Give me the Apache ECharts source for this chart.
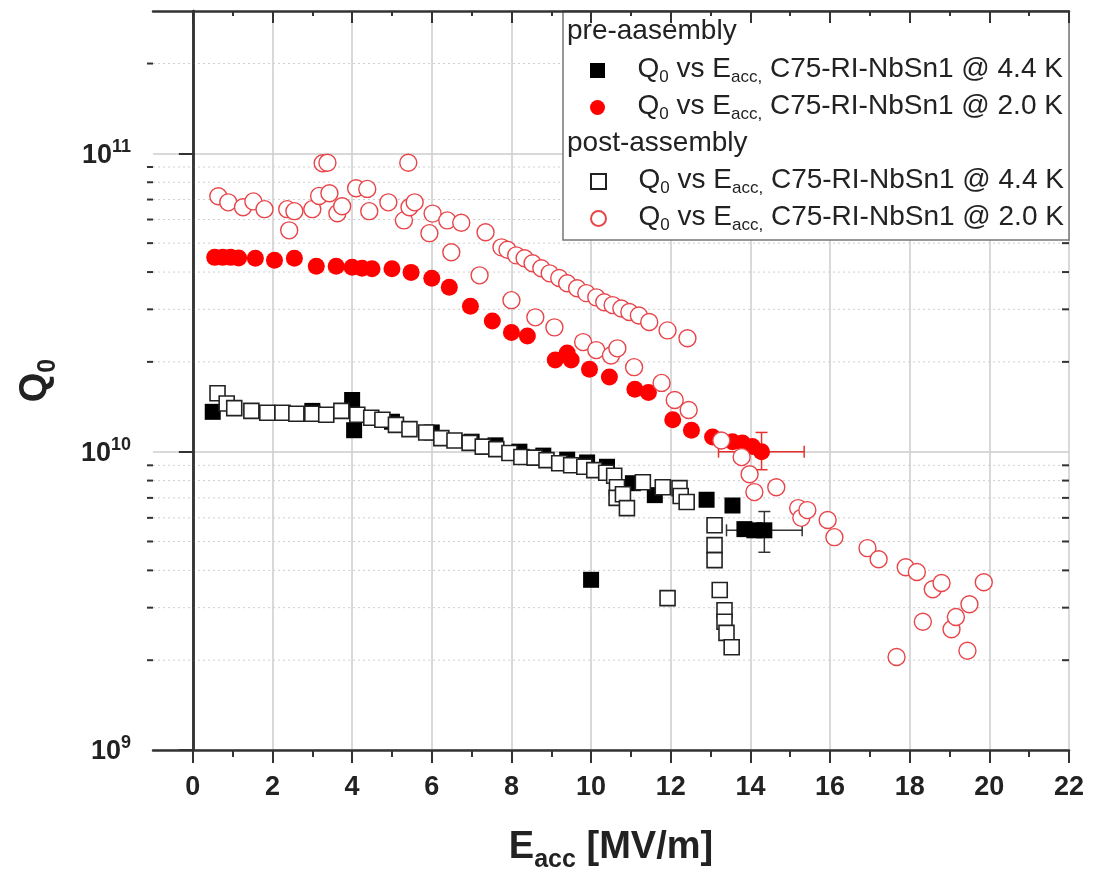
<!DOCTYPE html>
<html>
<head>
<meta charset="utf-8">
<script src="https://cdn.jsdelivr.net/npm/echarts@6/dist/echarts.min.js"></script>
<style>
html, body { margin: 0; padding: 0; background: #fff; }
#chart { width: 1100px; height: 870px; }
</style>
</head>
<body>
<div id="chart"></div>
<script>
// pre-assembly, 4.4 K  [Eacc, Q0]
var pre44 = [[0.5,1.36e10],[3.0,1.37e10],[4.0,1.49e10],[4.05,1.18e10],[5.0,1.26e10],[6.0,1.16e10],
  [7.0,1.08e10],[7.6,1.05e10],[8.2,1.0e10],[8.8,9.7e9],[9.4,9.4e9],[9.9,9.2e9],[10.0,3.72e9],
  [10.4,8.9e9],[11.05,7.84e9],[11.6,7.15e9],[12.9,6.9e9],[13.55,6.6e9],[13.85,5.5e9],
  [14.1,5.45e9],[14.35,5.45e9]];
// pre-assembly, 2.0 K
var pre20 = [[0.55,4.48e10],[0.75,4.48e10],[0.95,4.48e10],[1.15,4.46e10],[1.57,4.45e10],[2.05,4.38e10],
  [2.55,4.45e10],[3.1,4.18e10],[3.6,4.18e10],[4.0,4.15e10],[4.25,4.12e10],[4.5,4.1e10],[5.0,4.1e10],
  [5.48,3.99e10],[6.0,3.81e10],[6.44,3.56e10],[6.97,3.07e10],[7.52,2.74e10],[8.0,2.51e10],[8.4,2.44e10],
  [9.1,2.03e10],[9.4,2.14e10],[9.5,2.03e10],[9.96,1.89e10],[10.46,1.78e10],[11.1,1.62e10],[11.44,1.58e10],
  [12.05,1.28e10],[12.52,1.18e10],[13.05,1.12e10],[13.55,1.08e10],[13.8,1.07e10],[14.05,1.04e10],[14.28,1.0e10]];
// post-assembly, 4.4 K
var post44 = [[0.62,1.57e10],[0.85,1.45e10],[1.04,1.40e10],[1.47,1.37e10],[1.87,1.35e10],[2.25,1.35e10],
  [2.6,1.34e10],[3.0,1.34e10],[3.35,1.33e10],[3.73,1.37e10],[4.13,1.33e10],[4.48,1.30e10],[4.76,1.28e10],
  [5.1,1.23e10],[5.44,1.19e10],[5.86,1.16e10],[6.24,1.11e10],[6.57,1.09e10],[6.95,1.07e10],[7.28,1.04e10],
  [7.62,1.02e10],[7.95,9.9e9],[8.25,9.6e9],[8.58,9.55e9],[8.88,9.37e9],[9.2,9.15e9],[9.5,9.0e9],
  [9.83,8.9e9],[10.08,8.67e9],[10.38,8.5e9],[10.58,8.3e9],[10.65,7.6e9],[10.64,7.0e9],[10.8,7.2e9],
  [10.9,6.47e9],[11.3,7.9e9],[11.8,7.6e9],[11.92,3.23e9],[12.22,7.55e9],[12.25,7.1e9],[12.4,6.78e9],
  [13.1,5.67e9],[13.1,4.86e9],[13.1,4.33e9],[13.23,3.44e9],[13.35,2.94e9],[13.35,2.69e9],[13.4,2.47e9],
  [13.53,2.21e9]];
// post-assembly, 2.0 K
var post20 = [[0.64,7.18e10],[0.89,6.85e10],[1.26,6.6e10],[1.52,6.9e10],[1.8,6.5e10],[2.37,6.5e10],
  [2.42,5.52e10],[2.55,6.4e10],[3.0,6.5e10],[3.17,7.2e10],[3.26,9.26e10],[3.38,9.3e10],[3.43,7.35e10],
  [3.63,6.3e10],[3.75,6.65e10],[4.1,7.64e10],[4.38,7.6e10],[4.43,6.4e10],[4.91,6.85e10],[5.3,5.96e10],
  [5.41,9.3e10],[5.44,6.6e10],[5.57,6.85e10],[5.94,5.4e10],[6.02,6.28e10],[6.39,5.96e10],[6.49,4.66e10],
  [6.74,5.85e10],[7.2,3.9e10],[7.35,5.44e10],[7.75,4.84e10],[7.9,4.75e10],[8.0,3.22e10],[8.12,4.55e10],
  [8.33,4.45e10],[8.53,4.28e10],[8.6,2.82e10],[8.75,4.12e10],[8.96,3.96e10],[9.08,2.61e10],[9.2,3.82e10],
  [9.4,3.67e10],[9.65,3.53e10],[9.8,2.33e10],[9.88,3.4e10],[10.13,3.29e10],[10.13,2.19e10],[10.33,3.17e10],
  [10.5,2.1e10],[10.54,3.1e10],[10.66,2.22e10],[10.76,3.02e10],[10.96,2.94e10],[11.08,1.92e10],[11.2,2.86e10],
  [11.46,2.72e10],[11.77,1.70e10],[11.92,2.55e10],[12.1,1.49e10],[12.42,2.4e10],[12.45,1.38e10],
  [13.27,1.09e10],[13.78,9.59e9],[13.98,8.4e9],[14.1,7.32e9],[14.65,7.6e9],[15.2,6.47e9],[15.28,6.0e9],
  [15.43,6.37e9],[15.94,5.9e9],[16.11,5.17e9],[16.94,4.75e9],[17.22,4.36e9],[17.67,2.05e9],[17.9,4.1e9],
  [18.18,3.95e9],[18.33,2.69e9],[18.58,3.46e9],[18.8,3.63e9],[19.05,2.54e9],[19.16,2.79e9],[19.45,2.15e9],
  [19.5,3.08e9],[19.86,3.65e9]];
// error bars [x, y, xLow, xHigh, yLow, yHigh]
var errPre20 = [[14.28,1.0e10,13.2,15.35,8.7e9,1.16e10]];
var errPre44 = [[14.35,5.45e9,13.4,15.3,4.6e9,6.3e9]];

// axis ticks
var xTicks = [0,2,4,6,8,10,12,14,16,18,20,22];
var yMajor = [1e9,1e10,1e11];
var yMinor = [2e9,3e9,4e9,5e9,6e9,7e9,8e9,9e9,2e10,3e10,4e10,5e10,6e10,7e10,8e10,9e10,2e11];

var temps = {pre44:'4.4 K', pre20:'2.0 K', post44:'4.4 K', post20:'2.0 K'};
var font = 'Liberation Sans, Arial, sans-serif';
var axisColor = '#333';
var square = 'path://M0,0H10V10H0Z';

var chart = echarts.init(document.getElementById('chart'));

// dotted minor grid + minor ticks on left/right
function minorRender(params, api) {
  var cs = params.coordSys;
  var y = api.coord([0, api.value(1)])[1];
  var x0 = cs.x, x1 = cs.x + cs.width;
  return {type: 'group', children: [
    {type: 'line', shape: {x1: x0, y1: y, x2: x1, y2: y}, style: {stroke: '#cfcfcf', lineWidth: 1, lineDash: [2, 3]}},
    {type: 'line', shape: {x1: x0 - 6, y1: y, x2: x0, y2: y}, style: {stroke: axisColor, lineWidth: 2}},
    {type: 'line', shape: {x1: x1 - 7, y1: y, x2: x1, y2: y}, style: {stroke: axisColor, lineWidth: 2}}
  ]};
}

function errRender(params, api) {
  var c = api.coord([api.value(0), api.value(1)]);
  var l = api.coord([api.value(2), api.value(1)]);
  var r = api.coord([api.value(3), api.value(1)]);
  var b = api.coord([api.value(0), api.value(4)]);
  var t = api.coord([api.value(0), api.value(5)]);
  var st = {stroke: api.visual('color'), lineWidth: 1.5};
  var cap = 6;
  function seg(a1, b1, a2, b2) {
    return {type: 'line', shape: {x1: a1, y1: b1, x2: a2, y2: b2}, style: st};
  }
  return {type: 'group', children: [
    seg(l[0], c[1], r[0], c[1]),
    seg(c[0], b[1], c[0], t[1]),
    seg(l[0], c[1] - cap, l[0], c[1] + cap),
    seg(r[0], c[1] - cap, r[0], c[1] + cap),
    seg(c[0] - cap, b[1], c[0] + cap, b[1]),
    seg(c[0] - cap, t[1], c[0] + cap, t[1])
  ]};
}

function legendText(name) {
  return '{t|Q}{s|0}{t| vs E}{s|acc,}{t| C75-RI-NbSn1 @ ' + temps[name] + '}';
}

var legendRich = {
  t: {fontSize: 28, fontFamily: font, color: '#222', lineHeight: 31, verticalAlign: 'top'},
  s: {fontSize: 17, fontFamily: font, color: '#222', lineHeight: 17, padding: [17, 0, 0, 0], verticalAlign: 'bottom'}
};

function legendBlock(data, top) {
  return {
    data: data, left: 590, top: top, orient: 'vertical', padding: 0,
    itemWidth: 70, itemHeight: 15, itemGap: 3,
    formatter: legendText, selectedMode: false,
    textStyle: {rich: legendRich}
  };
}

var titleRich = {
  t: {fontSize: 38, fontWeight: 'bold', fontFamily: font, color: '#222', lineHeight: 44, verticalAlign: 'top'},
  s: {fontSize: 25, fontWeight: 'bold', fontFamily: font, color: '#222', lineHeight: 25, padding: [22, 0, 0, 0], verticalAlign: 'bottom'}
};

var option = {
  animation: false,
  backgroundColor: '#fff',
  grid: {left: 153, right: 31, top: 11, bottom: 120, outerBoundsMode: 'none'},
  legend: [legendBlock(['pre44', 'pre20'], 52), legendBlock(['post44', 'post20'], 163)],
  graphic: [
    {type: 'rect', z: 3, shape: {x: 563, y: 11, width: 506, height: 229},
      style: {fill: '#fff', stroke: '#777', lineWidth: 1.5}},
    {type: 'text', z: 5, left: 567, top: 17,
      style: {text: 'pre-aasembly', font: '28px ' + font, fill: '#222'}},
    {type: 'text', z: 5, left: 567, top: 129,
      style: {text: 'post-assembly', font: '28px ' + font, fill: '#222'}}
  ],
  xAxis: [{
    type: 'value', min: -1, max: 22, splitNumber: 12,
    name: '{t|E}{s|acc}{t| [MV/m]}', nameLocation: 'middle', nameGap: 79,
    nameTextStyle: {rich: titleRich},
    axisLine: {lineStyle: {color: axisColor, width: 2.5}},
    axisTick: {customValues: xTicks, length: 13, lineStyle: {color: axisColor, width: 2}},
    minorTick: {show: true, splitNumber: 2, length: 7, lineStyle: {color: axisColor, width: 2}},
    axisLabel: {customValues: xTicks, margin: 24, fontSize: 27, fontWeight: 'bold', fontFamily: font, color: '#222'},
    splitLine: {show: true, showMinLine: true, showMaxLine: true, lineStyle: {color: '#cccccc', width: 1.5}}
  }, {
    type: 'value', min: -1, max: 22, splitNumber: 12, position: 'top', z: 6,
    axisLine: {lineStyle: {color: axisColor, width: 2.5}},
    axisTick: {inside: true, customValues: xTicks, length: 12, lineStyle: {color: axisColor, width: 2}},
    minorTick: {show: true, splitNumber: 2, length: 5, lineStyle: {color: axisColor, width: 2}},
    axisLabel: {show: false},
    splitLine: {show: false}
  }],
  yAxis: [{
    type: 'log', logBase: 10, min: 1e9, max: 3e11,
    name: '{t|Q}{s|0}', nameLocation: 'middle', nameGap: 92, nameRotate: 90,
    nameTextStyle: {rich: titleRich},
    axisLine: {show: true, lineStyle: {color: axisColor, width: 2.5}},
    axisTick: {show: true, customValues: yMajor, length: 14, lineStyle: {color: axisColor, width: 2}},
    axisLabel: {
      customValues: yMajor, margin: 22,
      formatter: function (v) { return '{t|10}{p|' + Math.round(Math.log10(v)) + '}'; },
      rich: {
        t: {fontSize: 27, fontWeight: 'bold', fontFamily: font, color: '#222', lineHeight: 31, verticalAlign: 'bottom'},
        p: {fontSize: 18, fontWeight: 'bold', fontFamily: font, color: '#222', lineHeight: 18, padding: [0, 0, 16, 0], verticalAlign: 'top'}
      }
    },
    splitLine: {show: true, showMinLine: true, showMaxLine: true, lineStyle: {color: '#cccccc', width: 1.5}}
  }, {
    type: 'log', logBase: 10, min: 1e9, max: 3e11, position: 'right', z: 6,
    axisLine: {show: true, lineStyle: {color: axisColor, width: 2.5}},
    axisTick: {show: true, inside: true, customValues: yMajor, length: 12, lineStyle: {color: axisColor, width: 2}},
    axisLabel: {show: false},
    splitLine: {show: false}
  }],
  series: [
    {type: 'custom', name: 'minor', z: 1, silent: true, renderItem: minorRender,
      data: yMinor.map(function (v) { return [0, v]; }), encode: {x: 0, y: 1}},
    {type: 'custom', name: 'err44', z: 2, silent: true, renderItem: errRender,
      itemStyle: {color: '#333'}, data: errPre44, encode: {x: 0, y: 1}},
    {type: 'custom', name: 'err20', z: 2, silent: true, renderItem: errRender,
      itemStyle: {color: '#e53030'}, data: errPre20, encode: {x: 0, y: 1}},
    {type: 'scatter', name: 'pre44', data: pre44, symbol: square, symbolSize: 16,
      itemStyle: {color: '#000', opacity: 1}},
    {type: 'scatter', name: 'pre20', data: pre20, symbol: 'circle', symbolSize: 17,
      itemStyle: {color: '#ff0000', opacity: 1}},
    {type: 'scatter', name: 'post44', data: post44, symbol: square, symbolSize: 15,
      itemStyle: {color: '#fff', borderColor: '#222', borderWidth: 1.6, opacity: 1}},
    {type: 'scatter', name: 'post20', data: post20, symbol: 'circle', symbolSize: 17,
      itemStyle: {color: '#fff', borderColor: '#e8454a', borderWidth: 1.4, opacity: 1}}
  ]
};

chart.setOption(option);
</script>
</body>
</html>
